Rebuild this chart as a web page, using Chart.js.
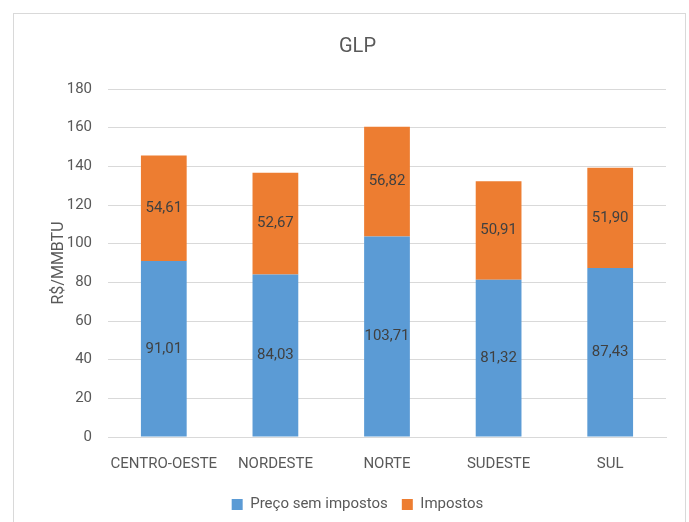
<!DOCTYPE html>
<html>
<head>
<meta charset="utf-8">
<script src="https://cdn.jsdelivr.net/npm/chart.js@4.4.0/dist/chart.umd.min.js"></script>
<style>
  body { margin: 0; background: #fff; }
  #moldura { position: absolute; left: 13px; top: 13px; width: 671px; height: 520px; border: 1px solid #d9d9d9; }
  #grafico { position: absolute; left: 0; top: 0; }
</style>
</head>
<body>
<div id="moldura"></div>
<canvas id="grafico" width="689" height="522"></canvas>
<script>
// dados do grafico GLP
var regioes = ["CENTRO-OESTE", "NORDESTE", "NORTE", "SUDESTE", "SUL"];
var precoSemImpostos = [91.01, 84.03, 103.71, 81.32, 87.43];
var impostos = [54.61, 52.67, 56.82, 50.91, 51.90];

var fonte = "Roboto, 'Liberation Sans', sans-serif";
var cinza = "#595959";

// escreve os valores no meio de cada barra
var rotulos = {
    id: "rotulos",
    afterDatasetsDraw: function (chart) {
        var ctx = chart.ctx;
        ctx.save();
        ctx.font = "15px " + fonte;
        ctx.fillStyle = "#404040";
        ctx.textAlign = "center";
        ctx.textBaseline = "middle";
        chart.data.datasets.forEach(function (ds, i) {
            chart.getDatasetMeta(i).data.forEach(function (barra, j) {
                var texto = ds.data[j].toFixed(2).replace(".", ",");
                ctx.fillText(texto, barra.x, (barra.y + barra.base) / 2);
            });
        });
        ctx.restore();
    }
};

new Chart(document.getElementById("grafico"), {
    type: "bar",
    data: {
        labels: regioes,
        datasets: [{
            label: "Preço sem impostos",
            data: precoSemImpostos,
            backgroundColor: "#5b9bd5"
        }, {
            label: "Impostos",
            data: impostos,
            backgroundColor: "#ed7d31"
        }]
    },
    options: {
        responsive: false,
        animation: false,
        datasets: { bar: { barPercentage: 0.41, categoryPercentage: 1 } },
        layout: { padding: { left: 49, right: 23, top: 35, bottom: 0 } },
        plugins: {
            title: {
                display: true,
                text: "GLP",
                color: cinza,
                font: { family: fonte, size: 20, weight: "normal" },
                padding: { top: 0, bottom: 30 }
            },
            legend: {
                position: "bottom",
                labels: {
                    color: cinza,
                    font: { family: fonte, size: 15 },
                    boxWidth: 11,
                    boxHeight: 11,
                    padding: 14
                }
            },
            tooltip: { enabled: false }
        },
        scales: {
            x: {
                stacked: true,
                grid: { display: false },
                border: { color: "#d9d9d9" },
                ticks: { color: cinza, font: { family: fonte, size: 15 }, padding: 10, maxRotation: 0, autoSkip: false }
            },
            y: {
                stacked: true,
                min: 0,
                max: 180,
                afterFit: function (escala) { escala.width = 59; },
                ticks: { stepSize: 20, color: cinza, font: { family: fonte, size: 15 }, padding: 16 },
                grid: { color: "#d9d9d9", drawTicks: false },
                border: { display: false },
                title: {
                    display: true,
                    text: "R$/MMBTU",
                    color: cinza,
                    font: { family: fonte, size: 16 },
                    padding: 0
                }
            }
        }
    },
    plugins: [rotulos]
});
</script>
</body>
</html>
